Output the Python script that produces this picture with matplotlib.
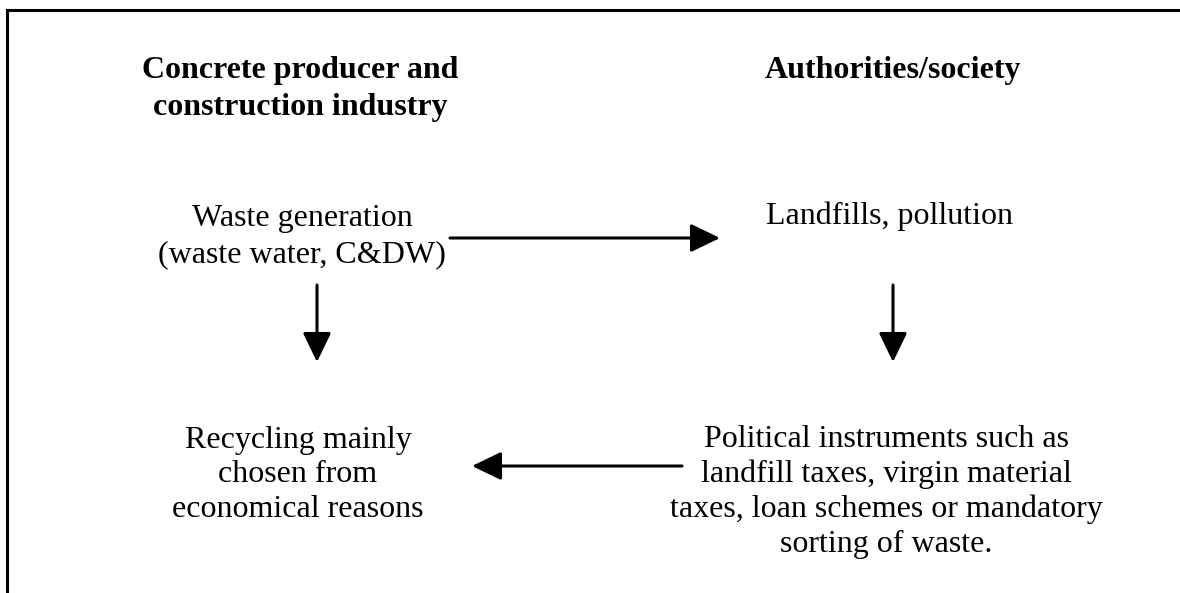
import matplotlib.pyplot as plt

plt.rcParams['font.family'] = ['Liberation Serif', 'DejaVu Serif']

headings = ['Concrete producer and\nconstruction industry', 'Authorities/society']
# x centre, baseline of last line
heading_pos = [(300, 115), (893, 78)]

boxes = ['Waste generation\n(waste water, C&DW)',
         'Landfills, pollution',
         'Recycling mainly\nchosen from\neconomical reasons',
         'Political instruments such as\nlandfill taxes, virgin material\ntaxes, loan schemes or mandatory\nsorting of waste.']
box_pos = [(302, 262), (890, 224), (298, 517), (886, 552)]
box_spacing = [1.32, 1.32, 1.25, 1.25]

# arrows as (start, end)
arrows = [((450, 238), (720, 238)),
          ((317, 285), (317, 362)),
          ((893, 285), (893, 362)),
          ((682, 466), (472, 466))]

fig = plt.figure(figsize=(11.8, 5.93), dpi=100)
ax = fig.add_axes([0, 0, 1, 1])
ax.set_xlim(0, 1180)
ax.set_ylim(593, 0)
ax.axis('off')

# frame: top and left edges only
ax.plot([7, 1180], [10, 10], color='black', lw=2.2, solid_capstyle='projecting')
ax.plot([7, 7], [10, 593], color='black', lw=2.2, solid_capstyle='projecting')

for txt, (x, y) in zip(headings, heading_pos):
    ax.text(x, y, txt, ha='center', va='baseline', fontsize=23, fontweight='bold',
            linespacing=1.37, multialignment='center')

for txt, (x, y), ls in zip(boxes, box_pos, box_spacing):
    ax.text(x, y, txt, ha='center', va='baseline', fontsize=23, linespacing=ls,
            multialignment='center')

for (x0, y0), (x1, y1) in arrows:
    ax.annotate('', xy=(x1, y1), xytext=(x0, y0),
                arrowprops=dict(arrowstyle='-|>,head_length=1.8,head_width=0.87',
                                color='black', lw=2.2, shrinkA=0, shrinkB=0))

fig.savefig('out.png', dpi=100)
